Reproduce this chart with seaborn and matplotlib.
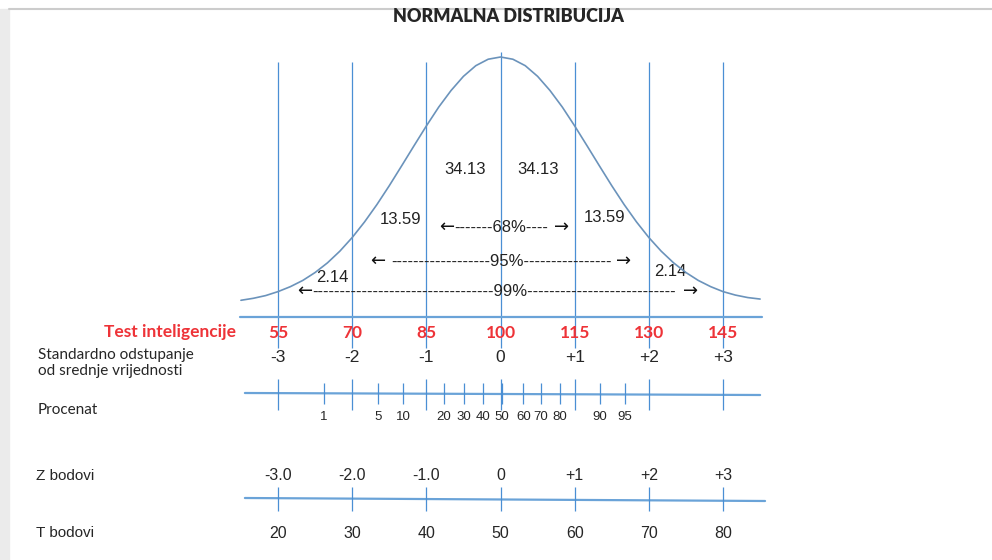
import matplotlib
matplotlib.use("Agg")
import matplotlib.pyplot as plt
import seaborn as sns
from matplotlib.patches import Rectangle
from matplotlib.lines import Line2D

# --- podaci ---
iq_scores = [55, 70, 85, 100, 115, 130, 145]
sd_labels = ["-3", "-2", "-1", "0", "+1", "+2", "+3"]
z_labels = ["-3.0", "-2.0", "-1.0", "0", "+1", "+2", "+3"]
t_scores = [20, 30, 40, 50, 60, 70, 80]

pct_labels = [1, 5, 10, 20, 30, 40, 50, 60, 70, 80, 90, 95]
pct_iq = [64.3, 75.2, 80.3, 88.6, 92.6, 96.5, 100.3, 104.6, 108.2, 112.0, 120.1, 125.2]

# krivulja ocitana sa slike (IQ, relativna visina)
curve_iq = [47.5, 50, 52.5, 55, 57.5, 60, 62.5, 65, 67.5, 70, 72.5, 75, 77.5, 80,
            82.5, 85, 87.5, 90, 92.5, 95, 97.5, 100, 102.5, 105, 107.5, 110, 112.5,
            115, 117.5, 120, 122.5, 125, 127.5, 130, 132.5, 135, 137.5, 140, 142.5,
            145, 147.5, 150, 152.5]
curve_h = [0.019, 0.027, 0.038, 0.054, 0.074, 0.099, 0.131, 0.170, 0.217, 0.272,
           0.335, 0.405, 0.481, 0.561, 0.642, 0.722, 0.798, 0.865, 0.922, 0.965,
           0.991, 1.000, 0.991, 0.965, 0.922, 0.865, 0.798, 0.722, 0.642, 0.561,
           0.481, 0.405, 0.335, 0.272, 0.217, 0.170, 0.131, 0.099, 0.074, 0.054,
           0.040, 0.030, 0.024]

area_labels = ["2.14", "13.59", "34.13", "34.13", "13.59", "2.14"]
area_iq = [65.9, 79.7, 92.8, 107.6, 121.1, 134.3]
area_row = [277, 220, 170, 170, 218, 272]

range_text = ["-------68%----",
              "------------------95%----------------",
              "-" * 33 + "99%" + "-" * 27]
range_arrow_left = [87.6, 73.6, 58.8]
range_text_left = [90.7, 77.9, 61.9]
range_arrow_right = [110.9, 123.4, 136.9]
range_row = [227, 261, 291]

# --- stil ---
sns.set_style("white")
plt.rcParams['font.family'] = ['Liberation Sans', 'DejaVu Sans']

BLUE = '#4a8fd4'
LINE_BLUE = '#6aa3d8'
CURVE = '#6b93bb'
RED = '#ee3338'
GILL = ['Lato', 'DejaVu Sans']

fig = plt.figure(figsize=(9.92, 5.6), dpi=100)
ax = fig.add_axes([0, 0, 1, 1])
ax.set_xlim(-1.23, 199.4)
ax.set_ylim(560, 0)
ax.set_axis_off()

# okvir slajda
fig.patches.append(Rectangle((0, 0), 9 / 992, 551 / 560, transform=fig.transFigure,
                             color='#ebebeb', zorder=0))
fig.lines.append(Line2D([9 / 992, 1], [551 / 560, 551 / 560], transform=fig.transFigure,
                        color='#cccccc', lw=1.5))

# krivulja
cax = fig.add_axes([0, (560 - 305) / 560, 1, (305 - 50) / 560])
cax.set_xlim(-1.23, 199.4)
cax.set_ylim(0, 255 / 248)
cax.set_axis_off()
cax.patch.set_alpha(0)
sns.lineplot(x=curve_iq, y=curve_h, ax=cax, color=CURVE, lw=1.2)

# vertikalne linije
for v in iq_scores:
    top = 52 if v == 100 else 62
    ax.vlines(v, top, 348, color=BLUE, lw=0.9)

# horizontalne linije
ax.plot([47.3, 152.8], [317, 317], color=LINE_BLUE, lw=1.6)
ax.plot([48.3, 152.5], [393, 395], color=LINE_BLUE, lw=1.6)
ax.plot([48.3, 153.5], [498, 501], color=LINE_BLUE, lw=1.6)

# crtice na skali procenata
ax.vlines(iq_scores, 379, 410, color=BLUE, lw=0.9)
ax.vlines(pct_iq, 383, 404, color=BLUE, lw=0.9)
# crtice na Z skali
ax.vlines(iq_scores, 487, 511, color=BLUE, lw=0.9)

# tekst na krivulji
for lab, x, y in zip(area_labels, area_iq, area_row):
    ax.text(x, y, lab, ha='center', va='center', fontsize=12, color='#222222')
for txt, xa, xt, xb, y in zip(range_text, range_arrow_left, range_text_left,
                              range_arrow_right, range_row):
    ax.text(xa, y, "←", ha='left', va='center', fontsize=13, color='#111111',
            family=['DejaVu Sans'])
    ax.text(xt, y, txt, ha='left', va='center', fontsize=12, color='#222222')
    ax.text(xb, y, "→", ha='left', va='center', fontsize=13, color='#111111',
            family=['DejaVu Sans'])

# naslov
fig.text(508 / 992, 1 - 17 / 560, "NORMALNA DISTRIBUCIJA", ha='center', va='center',
         fontsize=13, fontweight='heavy', family=GILL)

# red: test inteligencije
fig.text(236 / 992, 1 - 332 / 560, "Test inteligencije", ha='right', va='center',
         fontsize=12.5, fontweight='bold', color=RED, family=GILL)
for v in iq_scores:
    ax.text(v, 333, str(v), ha='center', va='center', fontsize=12.5,
            fontweight='bold', color=RED, family=GILL)

# standardno odstupanje
fig.text(38 / 992, 1 - 363 / 560, "Standardno odstupanje\nod srednje vrijednosti",
         ha='left', va='center', fontsize=11, linespacing=1.15, family=GILL)
for v, lab in zip(iq_scores, sd_labels):
    ax.text(v, 357, lab, ha='center', va='center', fontsize=12.5)

# procenat
fig.text(38 / 992, 1 - 410 / 560, "Procenat", ha='left', va='center', fontsize=11,
         family=GILL)
for v, lab in zip(pct_iq, pct_labels):
    ax.text(v, 417, str(lab), ha='center', va='center', fontsize=9.5)

# Z i T bodovi
fig.text(36 / 992, 1 - 476 / 560, "Z bodovi", ha='left', va='center', fontsize=11)
fig.text(36 / 992, 1 - 533 / 560, "T bodovi", ha='left', va='center', fontsize=11)
for v, lab in zip(iq_scores, z_labels):
    ax.text(v, 476, lab, ha='center', va='center', fontsize=11.5)
for v, t in zip(iq_scores, t_scores):
    ax.text(v, 533, str(t), ha='center', va='center', fontsize=11.5)

fig.savefig("out.png", dpi=100)
